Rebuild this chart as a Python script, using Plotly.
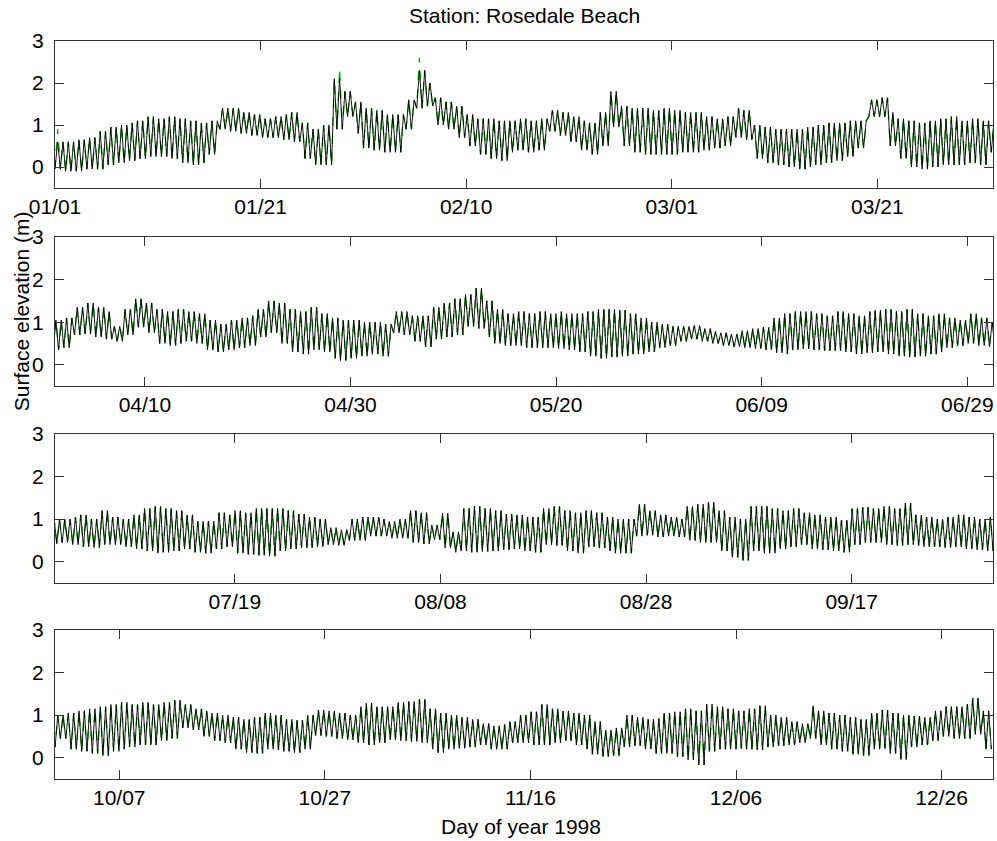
import numpy as np
import plotly.graph_objects as go

# ---- data (daily high / low water envelope, metres) ----
# day offsets 0..90 (Jan 1 .. Apr 1)
q1_high = [0.6, 0.6, 0.65, 0.7, 0.85, 0.95, 1.0, 1.05, 1.1, 1.2,
           1.15, 1.2, 1.15, 1.1, 1.05, 1.1, 1.4, 1.4, 1.3, 1.25,
           1.15, 1.2, 1.25, 1.3, 1.05, 0.9, 1.0, 2.1, 1.8, 1.55,
           1.4, 1.35, 1.25, 1.25, 1.6, 2.3, 2.0, 1.65, 1.55, 1.45,
           1.25, 1.15, 1.15, 1.1, 1.1, 1.15, 1.1, 1.15, 1.35, 1.3,
           1.2, 1.1, 1.05, 1.3, 1.8, 1.45, 1.4, 1.4, 1.35, 1.4,
           1.35, 1.3, 1.3, 1.2, 1.15, 1.2, 1.4, 1.35, 1.0, 0.95,
           0.9, 0.9, 0.9, 0.95, 1.0, 1.05, 1.05, 1.1, 1.1, 1.6,
           1.65, 1.3, 1.15, 1.1, 1.05, 1.1, 1.15, 1.2, 1.1, 1.15,
           1.1]
q1_low = [-0.05, -0.1, -0.1, -0.05, -0.05, 0.05, 0.1, 0.15, 0.2, 0.25,
          0.25, 0.2, 0.1, 0.05, 0.1, 0.3, 0.9, 0.85, 0.8, 0.75,
          0.7, 0.7, 0.65, 0.6, 0.2, 0.05, 0.05, 0.9, 1.2, 0.8,
          0.45, 0.4, 0.35, 0.35, 0.9, 1.4, 1.45, 1.0, 0.9, 0.7,
          0.5, 0.3, 0.2, 0.15, 0.35, 0.4, 0.35, 0.4, 0.85, 0.75,
          0.6, 0.4, 0.3, 0.5, 0.95, 0.5, 0.35, 0.3, 0.3, 0.3,
          0.3, 0.35, 0.35, 0.4, 0.45, 0.5, 0.7, 0.65, 0.2, 0.1,
          0.05, 0.0, -0.05, 0.0, 0.05, 0.1, 0.15, 0.25, 0.45, 1.2,
          1.2, 0.5, 0.2, 0.0, -0.05, 0.0, 0.05, 0.05, 0.05, 0.1,
          0.05]
# day offsets 91..181
q2_high = [1.05, 1.1, 1.35, 1.45, 1.35, 1.25, 0.9, 1.3, 1.55, 1.45,
           1.3, 1.25, 1.3, 1.25, 1.2, 1.05, 0.95, 1.05, 1.1, 1.15,
           1.3, 1.5, 1.45, 1.3, 1.25, 1.35, 1.2, 1.1, 1.05, 1.05,
           1.0, 1.0, 0.95, 1.25, 1.25, 1.15, 1.15, 1.35, 1.45, 1.55,
           1.65, 1.8, 1.5, 1.3, 1.2, 1.25, 1.2, 1.25, 1.2, 1.25,
           1.2, 1.2, 1.25, 1.3, 1.3, 1.28, 1.2, 1.1, 1.0, 0.95,
           0.9, 0.9, 0.92, 0.85, 0.78, 0.75, 0.72, 0.8, 0.85, 0.88,
           1.1, 1.2, 1.25, 1.25, 1.2, 1.15, 1.25, 1.2, 1.15, 1.25,
           1.28, 1.3, 1.25, 1.3, 1.2, 1.15, 1.2, 1.1, 1.05, 1.2,
           1.1]
q2_low = [0.35, 0.4, 0.7, 0.72, 0.65, 0.6, 0.55, 0.7, 0.88, 0.75,
          0.5, 0.45, 0.5, 0.55, 0.5, 0.35, 0.3, 0.35, 0.4, 0.45,
          0.65, 0.75, 0.5, 0.3, 0.25, 0.35, 0.3, 0.15, 0.1, 0.15,
          0.2, 0.25, 0.2, 0.75, 0.7, 0.55, 0.42, 0.6, 0.65, 0.7,
          0.9, 0.85, 0.65, 0.5, 0.45, 0.45, 0.4, 0.4, 0.4, 0.38,
          0.35, 0.3, 0.2, 0.15, 0.18, 0.2, 0.25, 0.25, 0.3, 0.4,
          0.45, 0.55, 0.6, 0.55, 0.5, 0.45, 0.42, 0.4, 0.38, 0.35,
          0.28, 0.25, 0.35, 0.37, 0.35, 0.33, 0.33, 0.3, 0.25, 0.28,
          0.3, 0.25, 0.2, 0.18, 0.2, 0.25, 0.3, 0.4, 0.45, 0.5,
          0.45]
# day offsets 182..272
q3_high = [1.0, 1.0, 1.05, 1.1, 1.0, 1.2, 1.05, 1.0, 1.1, 1.25,
           1.3, 1.25, 1.2, 1.1, 0.95, 0.95, 1.15, 1.1, 1.2, 1.15,
           1.25, 1.25, 1.25, 1.2, 1.12, 1.05, 1.0, 0.8, 0.75, 1.0,
           1.05, 1.05, 1.0, 0.95, 1.0, 1.2, 1.15, 0.86, 1.14, 0.7,
           1.25, 1.3, 1.25, 1.2, 1.12, 1.1, 1.05, 1.05, 1.25, 1.3,
           1.2, 1.15, 1.2, 1.15, 1.05, 1.0, 1.0, 1.35, 1.2, 1.1,
           1.05, 1.0, 1.3, 1.35, 1.4, 1.2, 1.05, 1.0, 1.3, 1.3,
           1.25, 1.2, 1.25, 1.15, 1.1, 1.05, 1.05, 0.98, 1.25, 1.28,
           1.25, 1.3, 1.25, 1.38, 1.1, 1.05, 1.0, 1.05, 1.1, 1.05,
           1.0]
q3_low = [0.42, 0.45, 0.4, 0.35, 0.33, 0.4, 0.4, 0.35, 0.3, 0.25,
          0.2, 0.22, 0.25, 0.3, 0.22, 0.2, 0.3, 0.35, 0.2, 0.17,
          0.15, 0.13, 0.25, 0.3, 0.33, 0.33, 0.35, 0.4, 0.38, 0.5,
          0.5, 0.6, 0.6, 0.55, 0.55, 0.45, 0.42, 0.52, 0.32, 0.22,
          0.25, 0.22, 0.24, 0.25, 0.28, 0.3, 0.25, 0.22, 0.4, 0.38,
          0.25, 0.2, 0.35, 0.32, 0.25, 0.2, 0.2, 0.6, 0.62, 0.58,
          0.6, 0.58, 0.5, 0.45, 0.45, 0.25, 0.1, 0.03, 0.25, 0.2,
          0.2, 0.3, 0.35, 0.4, 0.3, 0.28, 0.25, 0.22, 0.4, 0.45,
          0.45, 0.4, 0.38, 0.4, 0.38, 0.35, 0.35, 0.33, 0.35, 0.3,
          0.28]
# day offsets 273..364
q4_high = [1.05, 1.0, 1.05, 1.1, 1.15, 1.2, 1.25, 1.3, 1.25, 1.3,
           1.25, 1.3, 1.35, 1.25, 1.15, 1.1, 1.05, 1.0, 0.95, 0.9,
           0.95, 1.05, 1.0, 0.9, 0.88, 1.0, 1.12, 1.1, 1.05, 1.0,
           1.2, 1.28, 1.2, 1.2, 1.3, 1.32, 1.37, 1.15, 1.05, 1.0,
           0.95, 0.9, 0.8, 0.75, 0.78, 0.85, 1.0, 1.08, 1.25, 1.15,
           1.1, 1.05, 1.0, 0.85, 0.65, 0.7, 1.0, 0.95, 0.9, 0.92,
           1.05, 1.08, 1.15, 1.1, 1.26, 1.2, 1.15, 1.1, 1.15, 1.22,
           1.0, 0.95, 0.85, 0.8, 1.22, 1.1, 1.05, 1.0, 0.95, 0.9,
           1.05, 1.12, 1.05, 1.0, 0.98, 0.95, 1.1, 1.2, 1.2, 1.26,
           1.4, 1.1]
q4_low = [0.25, 0.45, 0.2, 0.15, 0.1, 0.05, 0.15, 0.2, 0.25, 0.3,
          0.3, 0.4, 0.45, 0.7, 0.65, 0.5, 0.4, 0.35, 0.2, 0.12,
          0.1, 0.2, 0.18, 0.15, 0.12, 0.2, 0.52, 0.5, 0.45, 0.42,
          0.35, 0.3, 0.35, 0.42, 0.4, 0.38, 0.35, 0.2, 0.12, 0.2,
          0.22, 0.25, 0.3, 0.2, 0.2, 0.35, 0.35, 0.3, 0.3, 0.35,
          0.4, 0.3, 0.2, 0.08, 0.03, 0.05, 0.25, 0.28, 0.2, 0.1,
          0.1, 0.02, -0.05, -0.17, 0.15, 0.2, 0.2, 0.22, 0.2, 0.18,
          0.25, 0.28, 0.3, 0.35, 0.45, 0.3, 0.2, 0.15, 0.08, 0.05,
          0.2, 0.22, 0.1, -0.04, 0.25, 0.3, 0.4, 0.5, 0.45, 0.45,
          0.55, 0.2]

# green (second record) differs visibly only at these surge peaks
green_peak_day = [0.3, 27.3, 35.4]
green_peak_value = [0.9, 2.35, 2.6]

panel_start = [0, 91.25, 182.5, 273.75]
panel_len = 91.25
tick_vals = [[0, 20, 40, 60, 80],
             [100, 120, 140, 160, 180],
             [200, 220, 240, 260],
             [280, 300, 320, 340, 360]]
tick_text = [["01/01", "01/21", "02/10", "03/01", "03/21"],
             ["04/10", "04/30", "05/20", "06/09", "06/29"],
             ["07/19", "08/08", "08/28", "09/17"],
             ["10/07", "10/27", "11/16", "12/06", "12/26"]]

# ---- assemble the tidal record: alternating low / high turning points ----
daily_high = q1_high + q2_high + q3_high + q4_high
daily_low = q1_low + q2_low + q3_low + q4_low
n_days = len(daily_high)
half_period = 12.42 / 24 / 2
t = np.arange(0, n_days, half_period)
idx = np.minimum(t.astype(int), n_days - 1)
elev = np.where(np.arange(len(t)) % 2 == 1,
                np.array(daily_high)[idx], np.array(daily_low)[idx])
green = elev.copy()
for d, v in zip(green_peak_day, green_peak_value):
    k = int(round(d / half_period))
    if k % 2 == 0:
        k += 1
    green[k] = v

fig = go.Figure()
domains = [[0.8008, 1.0], [0.5325, 0.7344], [0.2656, 0.4675], [0.0, 0.2019]]
font_family = "Liberation Sans, Arial, Helvetica, sans-serif"
axis_color = "#333333"

for i in range(4):
    n = "" if i == 0 else str(i + 1)
    fig.add_trace(go.Scatter(x=t, y=green, mode="lines",
                             line=dict(color="#00b000", width=1.3, dash="dash"),
                             xaxis="x" + n, yaxis="y" + n, showlegend=False,
                             hoverinfo="skip"))
    fig.add_trace(go.Scatter(x=t, y=elev, mode="lines",
                             line=dict(color="black", width=0.9),
                             xaxis="x" + n, yaxis="y" + n, showlegend=False))
    common = dict(ticks="inside", ticklen=9, tickcolor=axis_color, tickwidth=1,
                  showline=True, linecolor=axis_color, linewidth=1, mirror="ticks",
                  showgrid=False, zeroline=False,
                  tickfont=dict(family=font_family, size=21, color="black"))
    fig.update_layout(**{
        "xaxis" + n: dict(domain=[0, 1], anchor="y" + n,
                          range=[panel_start[i], panel_start[i] + panel_len],
                          tickvals=tick_vals[i], ticktext=tick_text[i],
                          ticklabelstandoff=0, **common),
        "yaxis" + n: dict(domain=domains[i], anchor="x" + n, range=[-0.5, 3],
                          tickvals=[0, 1, 2, 3], ticktext=["0", "1", "2", "3"],
                          ticklabelstandoff=6, **common),
    })

fig.update_layout(
    width=997, height=841,
    margin=dict(l=55, r=4, t=41, b=62),
    paper_bgcolor="white", plot_bgcolor="white",
    font=dict(family=font_family, size=21, color="black"),
    showlegend=False,
    annotations=[
        dict(text="Station: Rosedale Beach", xref="paper", yref="paper",
             x=0.5, y=1.0339, xanchor="center", yanchor="middle",
             showarrow=False, font=dict(size=21)),
        dict(text="Surface elevation (m)", xref="paper", yref="paper",
             x=-0.0362, y=0.634, xanchor="center", yanchor="middle",
             textangle=-90, showarrow=False, font=dict(size=21)),
        dict(text="Day of year 1998", xref="paper", yref="paper",
             x=0.497, y=-0.0637, xanchor="center", yanchor="middle",
             showarrow=False, font=dict(size=21)),
    ],
)

fig.write_html("out.html")
